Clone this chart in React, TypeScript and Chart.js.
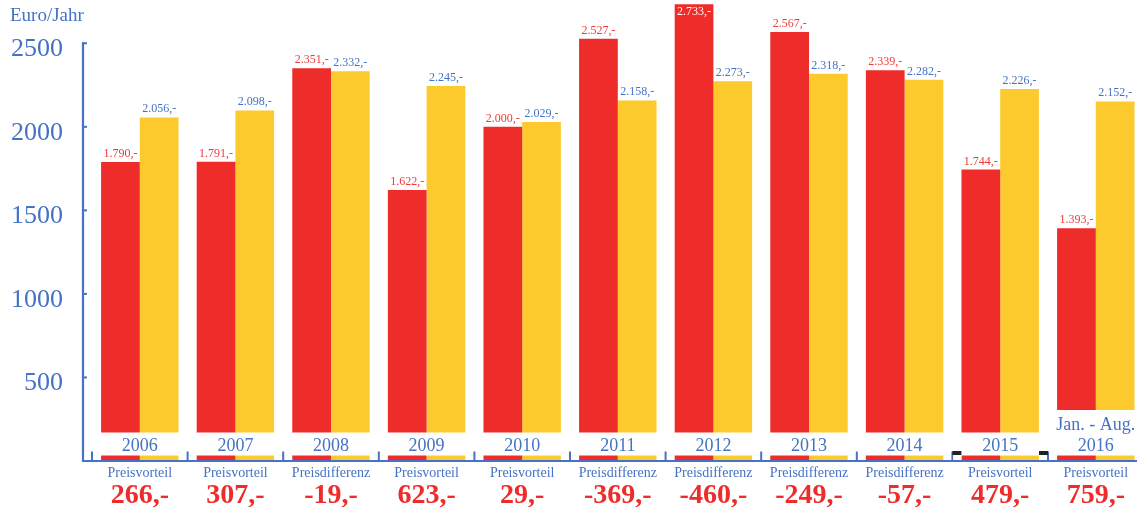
import React, { useEffect, useRef } from "react";
import { Chart, registerables } from "chart.js";

Chart.register(...registerables);

const categories = ["2006", "2007", "2008", "2009", "2010", "2011", "2012", "2013", "2014", "2015", "2016"];
const categoryNotes = ["", "", "", "", "", "", "", "", "", "", "Jan. - Aug."];
const redValues = [1790, 1791, 2351, 1622, 2000, 2527, 2733, 2567, 2339, 1744, 1393];
const yellowValues = [2056, 2098, 2332, 2245, 2029, 2158, 2273, 2318, 2282, 2226, 2152];
const diffTypes = [
  "Preisvorteil", "Preisvorteil", "Preisdifferenz", "Preisvorteil", "Preisvorteil",
  "Preisdifferenz", "Preisdifferenz", "Preisdifferenz", "Preisdifferenz", "Preisvorteil", "Preisvorteil",
];
const diffValues = [266, 307, -19, 623, 29, -369, -460, -249, -57, 479, 759];
const yTicks = [500, 1000, 1500, 2000, 2500];
const yTitle = "Euro/Jahr";

const RED = "#EE2C2A";
const YELLOW = "#FDCA2E";
const BLUE = "#4472C4";
const RED_TEXT = "#EE3A3A";
const SERIF = "'Liberation Serif', 'Times New Roman', serif";

function fmtThousands(v: number): string {
  const sign = v < 0 ? "-" : "";
  const s = String(Math.abs(Math.round(v)));
  const out = s.replace(/\B(?=(\d{3})+(?!\d))/g, ".");
  return sign + out + ",-";
}

const overlayPlugin = {
  id: "overlay",
  afterDraw(chart: any) {
    const ctx = chart.ctx;
    const xs = chart.scales.x;
    const ys = chart.scales.y;
    const area = chart.chartArea;
    const axisY = area.bottom;
    const axisX = area.left;
    ctx.save();

    // white label bands covering the bar bottoms
    categories.forEach((c, i) => {
      const l = xs.getPixelForValue(i - 0.5);
      const r = xs.getPixelForValue(i + 0.5);
      const top = categoryNotes[i] ? axisY - 51 : axisY - 28.5;
      ctx.fillStyle = "#FFFFFF";
      ctx.fillRect(l, top, r - l, axisY - 5.5 - top);
    });

    // category labels
    ctx.fillStyle = BLUE;
    ctx.textAlign = "center";
    ctx.textBaseline = "alphabetic";
    ctx.font = `18px ${SERIF}`;
    categories.forEach((c, i) => {
      const x = xs.getPixelForValue(i);
      ctx.fillText(c, x, axisY - 10.5);
      if (categoryNotes[i]) ctx.fillText(categoryNotes[i], x, axisY - 31);
    });

    // axes lines
    ctx.strokeStyle = BLUE;
    ctx.lineWidth = 2.2;
    ctx.beginPath();
    const topTick = ys.getPixelForValue(yTicks[yTicks.length - 1]);
    ctx.moveTo(axisX + 1, topTick - 1);
    ctx.lineTo(axisX + 1, axisY + 1);
    ctx.moveTo(axisX, axisY);
    ctx.lineTo(area.right, axisY);
    ctx.stroke();

    // y inward ticks
    ctx.lineWidth = 2;
    yTicks.forEach((v) => {
      const y = ys.getPixelForValue(v);
      ctx.beginPath();
      ctx.moveTo(axisX, y);
      ctx.lineTo(axisX + 5, y);
      ctx.stroke();
    });

    // x boundary ticks
    for (let i = 0; i <= categories.length; i++) {
      const x = xs.getPixelForValue(i - 0.5);
      ctx.beginPath();
      ctx.moveTo(x, axisY - 9.5);
      ctx.lineTo(x, axisY);
      ctx.stroke();
    }

    // small selection markers at 2015
    const i15 = categories.indexOf("2015");
    if (i15 >= 0) {
      const bl = xs.getPixelForValue(i15 - 0.5);
      const br = xs.getPixelForValue(i15 + 0.5);
      ctx.fillStyle = "#FFFFFF";
      ctx.fillRect(bl + 1, axisY - 6, 8, 5);
      ctx.fillRect(br - 9, axisY - 6, 8, 5);
      ctx.fillStyle = "#222222";
      ctx.fillRect(bl, axisY - 10, 9, 4);
      ctx.fillRect(br - 9, axisY - 10, 9, 4);
    }

    // bar value labels
    ctx.font = `12px ${SERIF}`;
    ctx.textAlign = "center";
    chart.data.datasets.forEach((ds: any, di: number) => {
      const meta = chart.getDatasetMeta(di);
      meta.data.forEach((bar: any, i: number) => {
        const v = ds.data[i].y;
        const txt = fmtThousands(v);
        if (bar.y < 20) {
          ctx.fillStyle = "#FFFFFF";
          ctx.fillText(txt, bar.x, bar.y + 11);
        } else {
          ctx.fillStyle = di === 0 ? RED_TEXT : BLUE;
          ctx.fillText(txt, bar.x, bar.y - 5);
        }
      });
    });

    // difference rows
    categories.forEach((c, i) => {
      const x = xs.getPixelForValue(i);
      ctx.fillStyle = BLUE;
      ctx.font = `14px ${SERIF}`;
      ctx.fillText(diffTypes[i], x, axisY + 16);
      ctx.fillStyle = RED;
      ctx.font = `bold 28px ${SERIF}`;
      ctx.fillText(fmtThousands(diffValues[i]), x, axisY + 42);
    });

    // y title
    ctx.fillStyle = BLUE;
    ctx.textAlign = "left";
    ctx.font = `19px ${SERIF}`;
    ctx.fillText(yTitle, 10, 21);

    ctx.restore();
  },
};

export default function App() {
  const canvasRef = useRef<HTMLCanvasElement | null>(null);

  useEffect(() => {
    if (!canvasRef.current) return;
    const pxPerCat = 95.6;
    const plotLeft = 82;
    const plotWidth = 1137 - plotLeft;
    const xMin = -0.5 - 10 / pxPerCat;
    const xMax = xMin + plotWidth / pxPerCat;

    const chart = new Chart(canvasRef.current, {
      type: "bar",
      data: {
        datasets: [
          {
            label: "Preis 1",
            data: redValues.map((v, i) => ({ x: i, y: v })),
            backgroundColor: RED,
            borderWidth: 0,
            categoryPercentage: 0.81,
            barPercentage: 1.0,
          },
          {
            label: "Preis 2",
            data: yellowValues.map((v, i) => ({ x: i, y: v })),
            backgroundColor: YELLOW,
            borderWidth: 0,
            categoryPercentage: 0.81,
            barPercentage: 1.0,
          },
        ],
      },
      options: {
        animation: false,
        responsive: false,
        maintainAspectRatio: false,
        layout: { padding: 0 },
        plugins: {
          legend: { display: false },
          tooltip: { enabled: false },
          title: { display: false },
        },
        scales: {
          x: {
            type: "linear",
            offset: false,
            min: xMin,
            max: xMax,
            grid: { display: false, drawTicks: false, offset: false },
            border: { display: false },
            ticks: { display: false },
            afterFit: (scale: any) => {
              scale.height = 50;
              scale.paddingLeft = 0;
              scale.paddingRight = 0;
            },
          },
          y: {
            type: "linear",
            min: 0,
            max: 2759,
            grid: { display: false, drawTicks: false },
            border: { display: false },
            afterBuildTicks: (scale: any) => {
              scale.ticks = yTicks.map((v) => ({ value: v }));
            },
            ticks: {
              color: BLUE,
              font: { family: SERIF, size: 26 },
              padding: 19,
              labelOffset: 6,
              callback: (v: any) => String(v),
            },
            afterFit: (scale: any) => {
              scale.width = 82;
              scale.paddingTop = 0;
              scale.paddingBottom = 0;
            },
          },
        },
      },
      plugins: [overlayPlugin],
    });
    return () => chart.destroy();
  }, []);

  return (
    <div
      style={{
        position: "fixed",
        left: 0,
        top: 0,
        width: 1137,
        height: 511,
        overflow: "hidden",
        background: "#FFFFFF",
      }}
    >
      <canvas ref={canvasRef} width={1137} height={511} />
    </div>
  );
}
